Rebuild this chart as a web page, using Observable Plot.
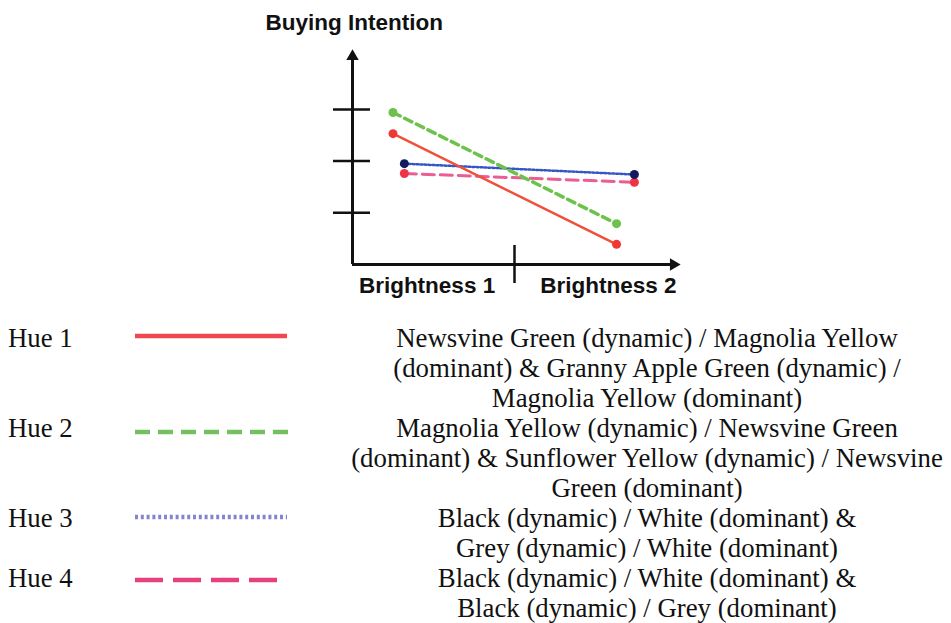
<!DOCTYPE html>
<html>
<head>
<meta charset="utf-8">
<script src="https://cdn.jsdelivr.net/npm/d3@7"></script>
<script src="https://cdn.jsdelivr.net/npm/@observablehq/plot@0.6"></script>
<style>
  html, body { margin: 0; padding: 0; background: #fff; }
  #wrap { position: relative; width: 951px; height: 623px; overflow: hidden; }
  #chart { position: absolute; left: 0; top: 0; }
  .row { position: absolute; left: 0; width: 951px; font-family: "Liberation Serif", "Times New Roman", serif; font-size: 26.8px; line-height: 30px; color: #111; }
  .row .lab { position: absolute; left: 8px; top: 0; }
  .row .sample { position: absolute; left: 133px; }
  .row .desc { position: absolute; left: 340px; width: 614px; text-align: center; white-space: nowrap; }
</style>
</head>
<body>
<div id="wrap">
  <div id="chart"></div>
  <div id="legend"></div>
</div>
<script>
// ---- data ----
const series = ["Hue 1", "Hue 2", "Hue 3", "Hue 4"];
const xLabels = ["Brightness 1", "Brightness 2"];
const xLabelPos = [0.46, 1.58];
const xMid = [1];
const yTicks = [1, 2, 3];
const xAtB1 = [0.25, 0.25, 0.32, 0.32];
const xAtB2 = [1.63, 1.63, 1.74, 1.74];
const valB1 = [2.53, 2.94, 1.95, 1.76];
const valB2 = [0.39, 0.79, 1.74, 1.59];
const yTitle = "Buying Intention";
const descriptions = [
  ["Newsvine Green (dynamic) / Magnolia Yellow", "(dominant) & Granny Apple Green (dynamic) /", "Magnolia Yellow (dominant)"],
  ["Magnolia Yellow (dynamic) / Newsvine Green", "(dominant) & Sunflower Yellow (dynamic) / Newsvine", "Green (dominant)"],
  ["Black (dynamic) / White (dominant) &", "Grey (dynamic) / White (dominant)"],
  ["Black (dynamic) / White (dominant) &", "Black (dynamic) / Grey (dominant)"]
];

// ---- styles ----
const lineColor = ["#f0503a", "#6cc24a", "#3356c4", "#ea5d95"];
const dotColor = ["#ee3838", "#6cc24a", "#111a5c", "#ee3344"];
const lineDash = [null, "8,5", "2,2", "12,6"];
const lineWidth = [2.5, 3.5, 2.5, 3];
const drawOrder = [3, 2, 1, 0];
const legendColor = ["#f04850", "#74c060", "#8585cf", "#e8407e"];
const legendDash = [null, "15,8", "3,2.8", "28,10"];
const legendWidth = [152, 154, 152, 144];
const rowTops = [323, 413, 503, 563];
const sampleOffset = [13, 19, 14, 17];

const rows = [];
series.forEach((s, i) => {
  rows.push({series: s, x: xAtB1[i], y: valB1[i]});
  rows.push({series: s, x: xAtB2[i], y: valB2[i]});
});

const yMax = 4.1;
const font = "'Liberation Sans', Arial, sans-serif";

const marks = [
  Plot.ruleX([0], {y1: 0, y2: yMax, stroke: "#111", strokeWidth: 3}),
  Plot.ruleY([0], {x1: 0, x2: 2, stroke: "#111", strokeWidth: 3}),
  Plot.dot([0], {x: 0, y: yMax, symbol: "triangle", r: 4.6, fill: "#111", stroke: "none", dy: 4}),
  Plot.dot([0], {x: 2, y: 0, symbol: "triangle", r: 4.6, fill: "#111", stroke: "none", rotate: 90, dx: -3}),
  Plot.axisY({ticks: yTicks, tickSize: 37, dx: 18, tickFormat: () => "", label: null, strokeWidth: 2.5, stroke: "#111"}),
  Plot.axisX({ticks: xMid, tickSize: 38, dy: -19, tickFormat: () => "", label: null, strokeWidth: 2.5, stroke: "#111"}),
  Plot.text([yTitle], {frameAnchor: "top-left", dx: -87, dy: -30, textAnchor: "start", lineAnchor: "middle", fontSize: 22.5, fontWeight: "bold", fontFamily: font, fill: "#111"}),
  Plot.text(xLabels, {x: xLabelPos, frameAnchor: "bottom", dy: 21, textAnchor: "middle", lineAnchor: "middle", fontSize: 22.5, fontWeight: "bold", fontFamily: font, fill: "#111"})
];
drawOrder.forEach(i => {
  const d = rows.filter(r => r.series === series[i]);
  marks.push(Plot.line(d, {x: "x", y: "y", stroke: lineColor[i], strokeWidth: lineWidth[i], strokeDasharray: lineDash[i] || undefined}));
  marks.push(Plot.dot(d, {x: "x", y: "y", r: 4.5, fill: dotColor[i], stroke: "none"}));
});

const chart = Plot.plot({
  width: 951,
  height: 305,
  marginLeft: 352,
  marginRight: 275,
  marginTop: 52,
  marginBottom: 41,
  x: {domain: [0, 2]},
  y: {domain: [0, yMax]},
  style: {background: "transparent", overflow: "visible"},
  marks
});
document.getElementById("chart").appendChild(chart);

// ---- legend ----
const legend = document.getElementById("legend");
series.forEach((s, i) => {
  const row = document.createElement("div");
  row.className = "row";
  row.style.top = rowTops[i] + "px";
  const lab = document.createElement("div");
  lab.className = "lab";
  lab.textContent = s;
  row.appendChild(lab);
  const svg = d3.create("svg").attr("class", "sample").attr("width", 165).attr("height", 10)
    .style("top", (sampleOffset[i] - 5) + "px");
  svg.append("line").attr("x1", 2).attr("x2", 2 + legendWidth[i]).attr("y1", 5).attr("y2", 5)
    .attr("stroke", legendColor[i]).attr("stroke-width", 4.5)
    .attr("stroke-dasharray", legendDash[i]);
  row.appendChild(svg.node());
  const desc = document.createElement("div");
  desc.className = "desc";
  descriptions[i].forEach((t, j) => {
    if (j) desc.appendChild(document.createElement("br"));
    desc.appendChild(document.createTextNode(t));
  });
  row.appendChild(desc);
  legend.appendChild(row);
});
</script>
</body>
</html>
